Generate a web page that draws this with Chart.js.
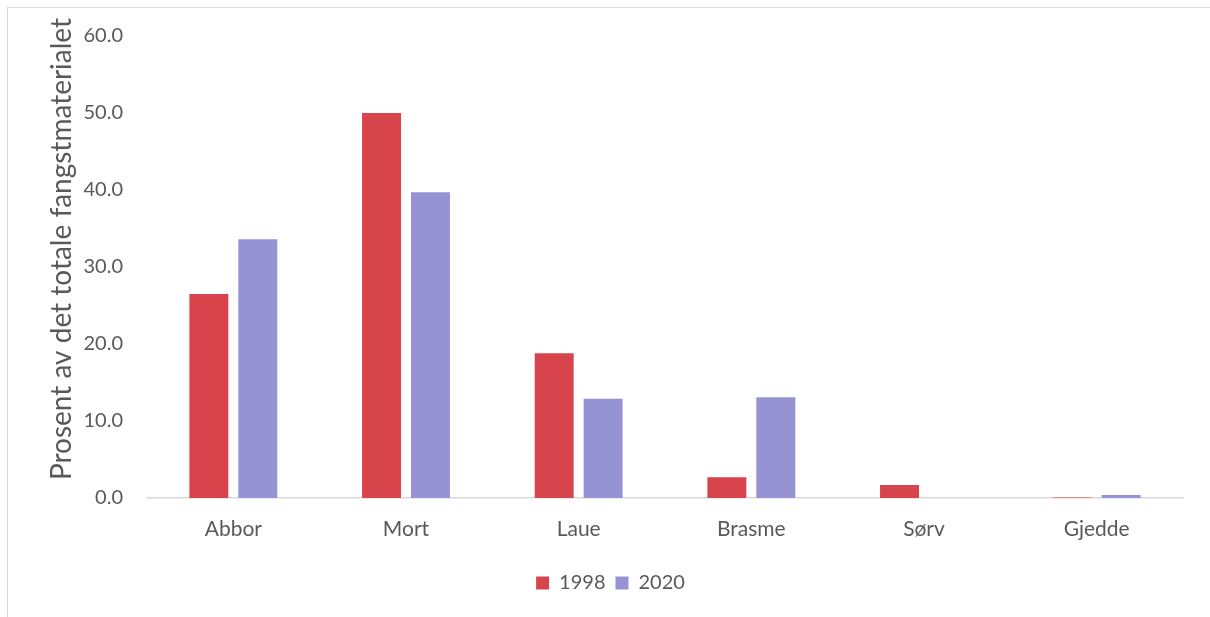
<!DOCTYPE html>
<html lang="no">
<head>
<meta charset="UTF-8">
<title>Fangstmateriale</title>
<script src="https://cdn.jsdelivr.net/npm/chart.js"></script>
<style>
  html, body { margin: 0; padding: 0; background: #fff; overflow: hidden; }
  .ramme {
    position: absolute; left: 7px; top: 7px; width: 1300px; height: 700px;
    border: 1px solid #d9d9d9;
  }
  .chart-container { position: absolute; left: 0; top: 0; width: 1210px; height: 617px; }
</style>
</head>
<body>
<div class="ramme"></div>
<div class="chart-container"><canvas id="fangstChart"></canvas></div>
<script>
  // arter og andel av totalt fangstmateriale (%)
  const arter = ["Abbor", "Mort", "Laue", "Brasme", "Sørv", "Gjedde"];
  const andel1998 = [26.5, 50.0, 18.8, 2.7, 1.7, 0.05];
  const andel2020 = [33.6, 39.7, 12.9, 13.1, 0.0, 0.4];
  const yTicks = [0, 10, 20, 30, 40, 50, 60];
  const yTittel = "Prosent av det totale fangstmaterialet";

  const tekstFarge = "#595959";
  const font = "Lato, 'Open Sans', sans-serif";

  Chart.defaults.color = tekstFarge;
  Chart.defaults.font.family = font;

  // aksetittel litt over midten av plottet, slik som i Excel-figuren
  const aksetittel = {
    id: "aksetittel",
    afterDraw(chart) {
      const { ctx, chartArea } = chart;
      ctx.save();
      ctx.translate(62, (chartArea.top + chartArea.bottom) / 2 - 18);
      ctx.rotate(-Math.PI / 2);
      ctx.font = "28px " + font;
      ctx.fillStyle = tekstFarge;
      ctx.textAlign = "center";
      ctx.textBaseline = "middle";
      ctx.fillText(yTittel, 0, 0);
      ctx.restore();
    },
  };

  const ctx = document.getElementById("fangstChart").getContext("2d");
  new Chart(ctx, {
    type: "bar",
    data: {
      labels: arter,
      datasets: [
        {
          label: "1998",
          data: andel1998,
          backgroundColor: "#D7444B",
          categoryPercentage: 0.567,
          barPercentage: 0.796,
        },
        {
          label: "2020",
          data: andel2020,
          backgroundColor: "#9593D3",
          categoryPercentage: 0.567,
          barPercentage: 0.796,
        },
      ],
    },
    options: {
      responsive: true,
      maintainAspectRatio: false,
      animation: false,
      layout: { padding: { left: 38, right: 27, top: 36, bottom: 14 } },
      plugins: {
        tooltip: { enabled: false },
        legend: {
          position: "bottom",
          labels: {
            boxWidth: 13,
            boxHeight: 13,
            padding: 10,
            font: { size: 20 },
          },
        },
      },
      scales: {
        x: {
          grid: { display: false, drawTicks: false },
          border: { display: true, color: "#d9d9d9", width: 1.5 },
          ticks: { font: { size: 21 }, padding: 19 },
          afterFit: (scale) => { scale.height = 65; },
        },
        y: {
          min: 0,
          max: 60,
          grid: { display: false, drawTicks: false },
          border: { display: false },
          afterBuildTicks: (scale) => { scale.ticks = yTicks.map(v => ({ value: v })); },
          ticks: {
            font: { size: 20 },
            padding: 24,
            callback: (v) => Number(v).toFixed(1),
          },
          afterFit: (scale) => { scale.width = 147 - 38; },
        },
      },
    },
    plugins: [aksetittel],
  });
</script>
</body>
</html>
